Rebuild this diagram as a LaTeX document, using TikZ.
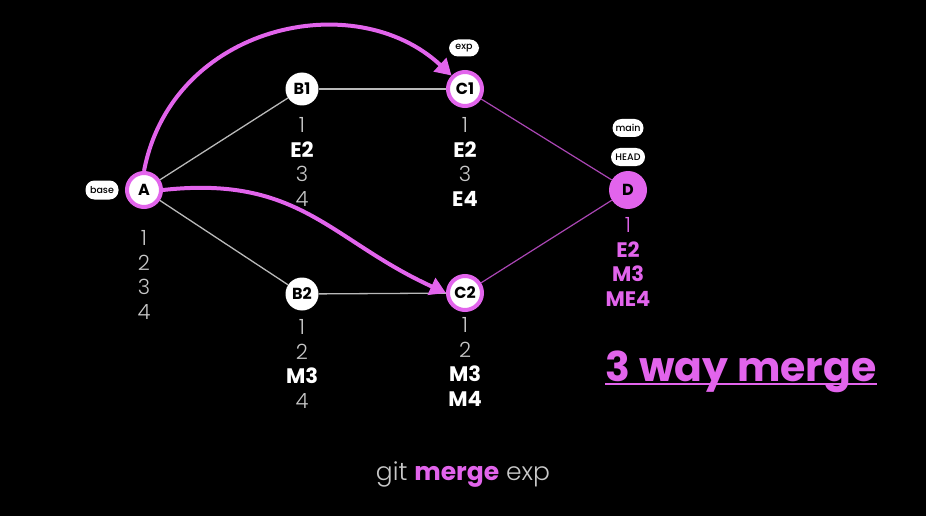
\documentclass[tikz,border=0pt]{standalone}
\usepackage{fontspec}
\setmainfont{Poppins}[UprightFont=* Light, BoldFont=* SemiBold]
\newfontfamily\pbold{Poppins SemiBold}
\newfontfamily\pheavy{Poppins Bold}
\newfontfamily\pmed{Poppins Medium}
\usetikzlibrary{arrows.meta}
\definecolor{mag}{RGB}{226,100,236}
\definecolor{lgray}{RGB}{200,200,200}
\definecolor{edgegray}{RGB}{185,185,185}
\definecolor{dpurple}{RGB}{170,70,180}
\tikzset{
  commit/.style={circle, fill=white, minimum size=33pt, inner sep=0pt, font=\pheavy\fontsize{16}{16}\selectfont, text=black},
  ringed/.style={commit, draw=mag, line width=4pt, minimum size=34pt},
  merged/.style={commit, fill=mag, minimum size=38pt},
  pill/.style={rounded corners=9pt, fill=white, minimum width=33pt, minimum height=19pt, inner sep=1pt, font=\pmed\fontsize{9.5}{9.5}\selectfont, text=black},
  col/.style={align=center, font=\fontsize{21}{24.5}\selectfont, text=lgray, anchor=north},
  plain/.style={draw=edgegray, line width=1.3pt},
  purp/.style={draw=dpurple, line width=1.2pt},
  bigarrow/.style={draw=mag, line width=4pt, -{Triangle[length=16pt,width=18pt]}}
}
\newcommand{\bw}[1]{{\pheavy\color{white}#1}}
\begin{document}
\begin{tikzpicture}[x=1pt,y=-1pt]
\fill[black] (0,0) rectangle (926,516);
\useasboundingbox (0,0) rectangle (926,516);
% nodes
\node[ringed] (A) at (144,190) {A};
\node[commit] (B1) at (302,89) {B1};
\node[ringed] (C1) at (465,89) {C1};
\node[commit] (B2) at (302,294) {B2};
\node[ringed] (C2) at (465,293) {C2};
\node[merged] (D) at (628,190) {D};
% pills
\node[pill] (base) at (102,190) {base};
\node[pill, minimum width=30pt, minimum height=17pt] (exp) at (464,48) {exp};
\node[pill, minimum width=31pt, minimum height=18pt] (main) at (628,128) {main};
\node[pill, minimum width=34pt, minimum height=18pt] (head) at (628,157) {HEAD};
% edges
\draw[plain] (A) -- (B1);
\draw[plain] (A) -- (B2);
\draw[plain] (B1) -- (C1);
\draw[plain] (B2) -- (C2);
\draw[purp] (C1) -- (D);
\draw[purp] (C2) -- (D);
% arrows
\draw[bigarrow] (A.north) .. controls (172,25) and (355,-15) .. (C1.north west);
\draw[bigarrow] (A.east) .. controls (300,175) and (330,240) .. (C2.west);
% columns
\node[col] (ta) at (144,227) {1\\2\\3\\4};
\node[col] (tb1) at (302,114) {1\\\bw{E2}\\3\\4};
\node[col] (tc1) at (465,114) {1\\\bw{E2}\\3\\\bw{E4}};
\node[col] (tb2) at (302,316) {1\\2\\\bw{M3}\\4};
\node[col] (tc2) at (465,314) {1\\2\\\bw{M3}\\\bw{M4}};
\node[col, text=mag] (td) at (628,214) {1\\{\pheavy E2}\\{\pheavy M3}\\{\pheavy ME4}};
% title
\node[font=\pheavy\fontsize{41}{41}\selectfont, text=mag, inner sep=0pt, anchor=base] (title) at (741,381) {3 way merge};
\coordinate (ul1) at (605,384);
\coordinate (ul2) at (877,384);
\draw[draw=mag, line width=2pt] (ul1) -- (ul2);
\node[font=\fontsize{25}{25}\selectfont, text=lgray] (cmd) at (463,475) {git {\pheavy\color{mag}merge} exp};
\end{tikzpicture}
\end{document}
